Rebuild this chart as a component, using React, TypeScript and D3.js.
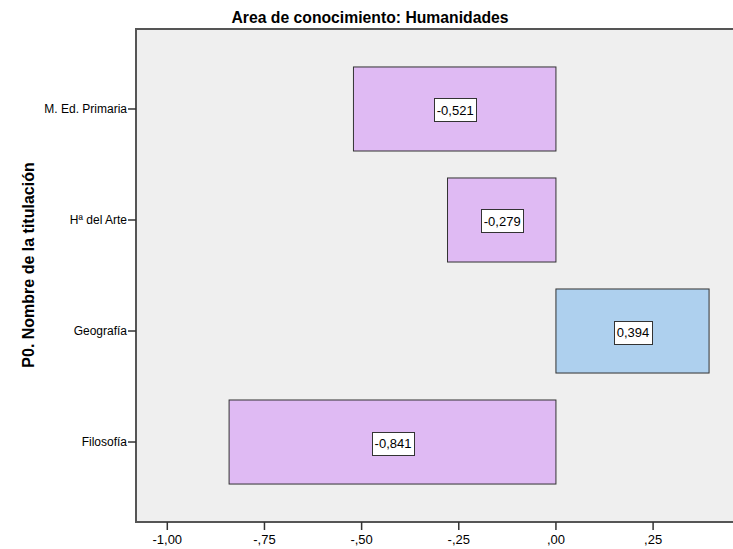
import React from "react";
import * as d3 from "d3";

const categories = ["M. Ed. Primaria", "Hª del Arte", "Geografía", "Filosofía"];
const values = [-0.521, -0.279, 0.394, -0.841];
const valueLabels = ["-0,521", "-0,279", "0,394", "-0,841"];
const xTicks = [-1, -0.75, -0.5, -0.25, 0, 0.25];
const xTickLabels = ["-1,00", "-,75", "-,50", "-,25", ",00", ",25"];
const title = "Area de conocimiento: Humanidades";
const yTitle = "P0. Nombre de la titulación";

const W = 733;
const H = 549;
const frameLeft = 136;
const frameTop = 29;
const frameBottom = 522;
const frameRight = 760;

const charW: Record<string, number> = { "-": 0.333, ",": 0.278 };
function textWidth(s: string, size: number) {
  let w = 0;
  for (const ch of s) w += charW[ch] ?? 0.556;
  return w * size;
}

export default function App() {
  const x = d3.scaleLinear().domain([-1, 0.25]).range([167.3, 653.1]);
  const y = d3
    .scaleBand<string>()
    .domain(categories)
    .range([frameTop, frameBottom])
    .paddingInner(0.243)
    .paddingOuter(0.342);

  const font = "'Liberation Sans', Arial, sans-serif";

  return (
    <svg
      width={W}
      height={H}
      style={{ position: "absolute", left: 0, top: 0, background: "#fff" }}
    >
      <defs>
        <clipPath id="clipAll">
          <rect x={0} y={0} width={W} height={H} />
        </clipPath>
      </defs>
      <g clipPath="url(#clipAll)">
        <rect
          x={frameLeft}
          y={frameTop}
          width={frameRight - frameLeft}
          height={frameBottom - frameTop}
          fill="#efefef"
          stroke="#555"
          strokeWidth={2}
        />
        {categories.map((c, i) => {
          const v = values[i];
          const x0 = x(Math.min(0, v));
          const x1 = x(Math.max(0, v));
          const yy = y(c)!;
          const bw = y.bandwidth();
          return (
            <rect
              key={c}
              x={x0}
              y={yy}
              width={x1 - x0}
              height={bw}
              fill={v < 0 ? "#dfbaf3" : "#aed0ee"}
              stroke="#333"
              strokeWidth={1}
            />
          );
        })}
        {categories.map((c, i) => {
          const v = values[i];
          const cx = (x(Math.min(0, v)) + x(Math.max(0, v))) / 2;
          const cy = y(c)! + y.bandwidth() / 2 + 1;
          const label = valueLabels[i];
          const tw = textWidth(label, 13) + 5;
          const bh = 23;
          return (
            <g key={"l" + c}>
              <rect
                x={Math.round(cx - tw / 2) + 0.5}
                y={Math.round(cy - bh / 2) + 0.5}
                width={Math.round(tw)}
                height={bh}
                fill="#fff"
                stroke="#333"
                strokeWidth={1}
              />
              <text
                x={cx + 0.5}
                y={cy + 5}
                textAnchor="middle"
                fontFamily={font}
                fontSize={13}
                fill="#000"
              >
                {label}
              </text>
            </g>
          );
        })}
        {categories.map((c) => {
          const cy = y(c)! + y.bandwidth() / 2;
          return (
            <g key={"t" + c}>
              <line x1={frameLeft - 8} x2={frameLeft} y1={cy} y2={cy} stroke="#333" strokeWidth={1.5} />
              <text
                x={frameLeft - 9}
                y={cy + 4}
                textAnchor="end"
                fontFamily={font}
                fontSize={12}
                fill="#000"
              >
                {c}
              </text>
            </g>
          );
        })}
        {xTicks.map((t, i) => (
          <g key={"x" + t}>
            <line x1={x(t)} x2={x(t)} y1={frameBottom} y2={frameBottom + 8} stroke="#333" strokeWidth={1.5} />
            <text
              x={x(t)}
              y={544}
              textAnchor="middle"
              fontFamily={font}
              fontSize={13}
              fill="#000"
            >
              {xTickLabels[i]}
            </text>
          </g>
        ))}
        <text
          x={370}
          y={23}
          textAnchor="middle"
          fontFamily={font}
          fontWeight="bold"
          fontSize={17}
          textLength={277}
          lengthAdjust="spacingAndGlyphs"
          fill="#000"
        >
          {title}
        </text>
        <text
          transform={`translate(34, 265) rotate(-90)`}
          textAnchor="middle"
          fontFamily={font}
          fontWeight="bold"
          fontSize={16}
          fill="#000"
        >
          {yTitle}
        </text>
      </g>
    </svg>
  );
}
